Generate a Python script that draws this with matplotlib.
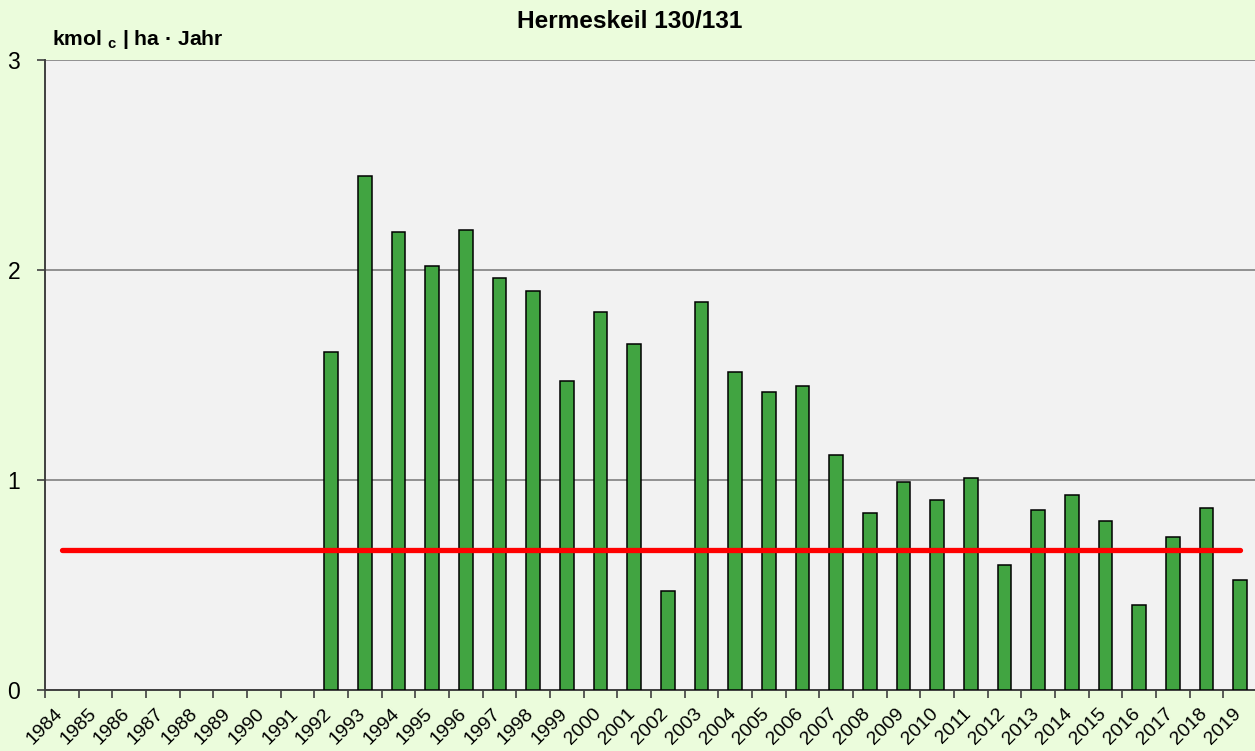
import matplotlib
matplotlib.use("Agg")
import matplotlib.pyplot as plt
import matplotlib.transforms as mtransforms
import numpy as np

plt.rcParams.update({
    "font.family": ["Liberation Sans", "DejaVu Sans"],
    "mathtext.fontset": "custom",
    "mathtext.rm": "Liberation Sans",
    "mathtext.bf": "Liberation Sans:bold",
})

# ===== data =====
years = [str(y) for y in range(1984, 2020)]
values = [np.nan] * 8 + [
    1.61, 2.45, 2.18, 2.02, 2.19, 1.96, 1.90, 1.47, 1.80, 1.65,
    0.47, 1.85, 1.515, 1.42, 1.45, 1.12, 0.845, 0.99, 0.905, 1.01,
    0.593, 0.858, 0.93, 0.806, 0.405, 0.73, 0.867, 0.524,
]
ref_value = 0.668
title = "Hermeskeil 130/131"
unit_label = r"kmol ${}_{\mathbf{c}}$ | ha · Jahr"
yticks = [0, 1, 2, 3]

BG = "#EBFCDC"
PLOT_BG = "#F2F2F2"
BAR_GREEN = "#41A441"

fig = plt.figure(figsize=(12.55, 7.51), dpi=100, facecolor=BG)
ax = fig.add_axes([0.0359, 0.0812, 0.9657, 0.8389])
ax.set_facecolor(PLOT_BG)

x = np.arange(len(years))
ax.bar(x, values, 0.41, color=BAR_GREEN, edgecolor="black", linewidth=1.1, zorder=3)
ax.plot(x[[0, -1]], [ref_value, ref_value], color="#FF0000", lw=3.8,
        solid_capstyle="round", zorder=4)

ax.set_xlim(-0.5, len(years) - 0.5)
ax.set_ylim(0, 3)
ax.set_yticks(yticks)
ax.set_yticklabels([str(v) for v in yticks], fontsize=16.5)
ax.yaxis.grid(True, color="#808080", lw=1.2, zorder=1)
ax.set_axisbelow(True)

ax.set_xticks(x)
ax.set_xticklabels(years, rotation=45, ha="right", va="top", fontsize=14)
ax.set_xticks(np.arange(len(years) + 1) - 0.5, minor=True)
ax.tick_params(axis="x", which="major", length=0, pad=11)
ax.tick_params(axis="x", which="minor", length=6, width=1.2, color="#404040")
ax.tick_params(axis="y", length=6, width=1.2, color="#404040", pad=12)

# Excel-style: labels sit a little to the right of the category centre
shift = mtransforms.ScaledTranslation(4 / 100, 0, fig.dpi_scale_trans)
for lab in ax.get_xticklabels():
    lab.set_transform(lab.get_transform() + shift)

for s in ["top", "right"]:
    ax.spines[s].set_visible(False)
for s in ["left", "bottom"]:
    ax.spines[s].set_color("#404040")
    ax.spines[s].set_linewidth(1.4)

fig.text(0.502, 0.972, title, ha="center", va="center", fontsize=17.6, fontweight="bold")
fig.text(0.0414, 0.940, unit_label, ha="left", va="baseline", fontsize=15.2,
         fontweight="bold")

fig.savefig("out.png", dpi=100, facecolor=BG)
